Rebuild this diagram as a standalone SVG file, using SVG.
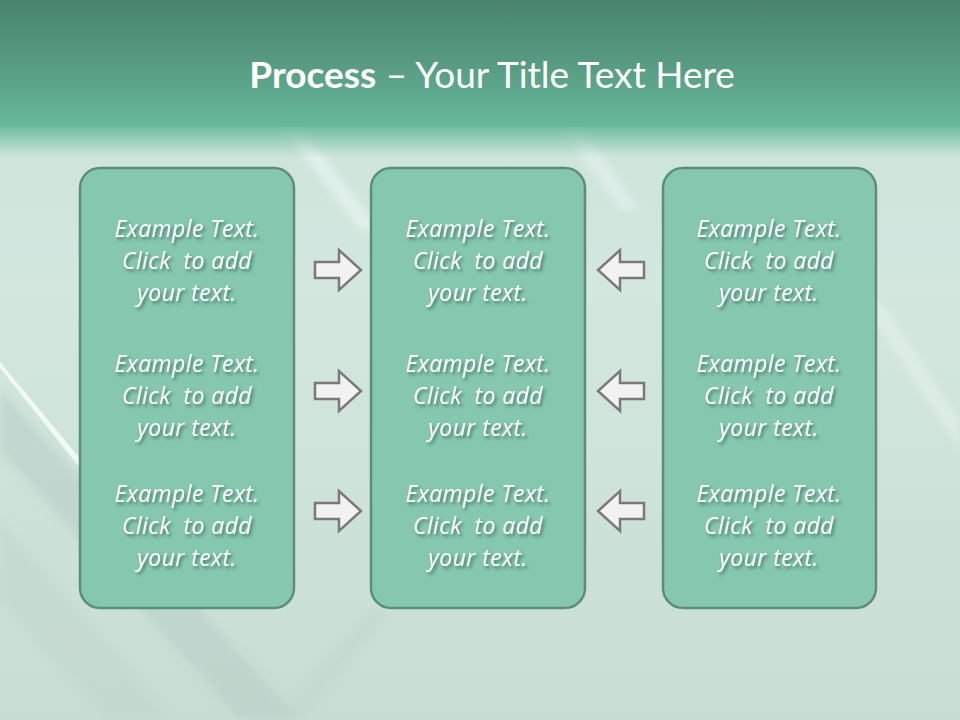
<svg xmlns="http://www.w3.org/2000/svg" width="960" height="720" viewBox="0 0 960 720">
<defs>
<linearGradient id="top" x1="0" y1="0" x2="0" y2="1">
<stop offset="0" stop-color="#4a846e"/>
<stop offset="0.5" stop-color="#579b81"/>
<stop offset="1" stop-color="#68b99c"/>
</linearGradient>
<linearGradient id="bg" x1="0" y1="0" x2="0" y2="1">
<stop offset="0" stop-color="#a9d3c3"/>
<stop offset="0.05" stop-color="#c9e3d9"/>
<stop offset="0.4" stop-color="#d3e7df"/>
<stop offset="1" stop-color="#c8ddd4"/>
</linearGradient>
<linearGradient id="fade" x1="0" y1="0" x2="0" y2="1">
<stop offset="0" stop-color="#68b99c" stop-opacity="0.9"/>
<stop offset="1" stop-color="#68b99c" stop-opacity="0"/>
</linearGradient>
<filter id="ts" x="-10%" y="-30%" width="130%" height="170%">
<feDropShadow dx="2" dy="2.5" stdDeviation="1.5" flood-color="#2f5e4d" flood-opacity="0.7"/>
</filter>
<filter id="blur" x="-20%" y="-20%" width="140%" height="140%">
<feGaussianBlur stdDeviation="4"/>
</filter>
</defs>
<style>
.box{fill:#86c7b0;stroke:#5e8d7b;stroke-width:2.5}
.arr{fill:#f2f2f2;stroke:#7a7a7a;stroke-width:2.5;stroke-linejoin:miter}
.t{font-family:"Open Sans","Liberation Sans",sans-serif;font-style:italic;font-size:23px;letter-spacing:0.4px;fill:#ffffff;text-anchor:middle;filter:url(#ts);white-space:pre}
.title{font-family:Lato,"Liberation Sans",sans-serif;font-size:37px;fill:#ffffff;text-anchor:middle}
</style>

<g id="background">
<rect x="0" y="0" width="960" height="720" fill="url(#bg)"/>
<g filter="url(#blur)">
<polygon points="0,390 0,450 240,720 300,720" fill="#b9cfc6" opacity="0.6"/>
<polygon points="0,520 0,600 110,720 170,720" fill="#c0d4cc" opacity="0.5"/>
<polygon points="280,125 300,125 380,230 360,230" fill="#eef7f3" opacity="0.6"/>
<polygon points="560,125 580,125 640,210 620,210" fill="#eef7f3" opacity="0.5"/>
<polygon points="860,300 880,300 960,420 960,450" fill="#e6f2ed" opacity="0.6"/>
<polygon points="370,610 390,610 300,720 280,720" fill="#bdd2c9" opacity="0.4"/>
</g>
<polygon points="0,362 0,368 80,468 83,462" fill="#f4fbf8" opacity="0.9"/>
<rect x="0" y="0" width="960" height="127" fill="url(#top)"/>
<rect x="0" y="127" width="960" height="30" fill="url(#fade)"/>
</g>

<g id="title">
<text class="title" x="492" y="88"><tspan font-weight="bold">Process</tspan> – Your Title Text Here</text>
</g>

<g id="box-left">
<rect class="box" x="80" y="168" width="214" height="440" rx="20"/>
<text class="t"><tspan x="187" y="237">Example Text.</tspan><tspan x="187" y="269">Click  to add</tspan><tspan x="187" y="301">your text.</tspan></text>
<text class="t"><tspan x="187" y="372">Example Text.</tspan><tspan x="187" y="404">Click  to add</tspan><tspan x="187" y="436">your text.</tspan></text>
<text class="t"><tspan x="187" y="502">Example Text.</tspan><tspan x="187" y="534">Click  to add</tspan><tspan x="187" y="566">your text.</tspan></text>
</g>

<g id="box-middle">
<rect class="box" x="371" y="168" width="214" height="440" rx="20"/>
<text class="t"><tspan x="478" y="237">Example Text.</tspan><tspan x="478" y="269">Click  to add</tspan><tspan x="478" y="301">your text.</tspan></text>
<text class="t"><tspan x="478" y="372">Example Text.</tspan><tspan x="478" y="404">Click  to add</tspan><tspan x="478" y="436">your text.</tspan></text>
<text class="t"><tspan x="478" y="502">Example Text.</tspan><tspan x="478" y="534">Click  to add</tspan><tspan x="478" y="566">your text.</tspan></text>
</g>

<g id="box-right">
<rect class="box" x="663" y="168" width="213" height="440" rx="20"/>
<text class="t"><tspan x="769" y="237">Example Text.</tspan><tspan x="769" y="269">Click  to add</tspan><tspan x="769" y="301">your text.</tspan></text>
<text class="t"><tspan x="769" y="372">Example Text.</tspan><tspan x="769" y="404">Click  to add</tspan><tspan x="769" y="436">your text.</tspan></text>
<text class="t"><tspan x="769" y="502">Example Text.</tspan><tspan x="769" y="534">Click  to add</tspan><tspan x="769" y="566">your text.</tspan></text>
</g>

<g id="connectors">
<path class="arr" d="M315,262 H339 V250 L361,270 L339,290 V278 H315 Z"/>
<path class="arr" d="M315,383 H339 V371 L361,391 L339,411 V399 H315 Z"/>
<path class="arr" d="M315,503 H339 V491 L361,511 L339,531 V519 H315 Z"/>
<path class="arr" d="M644,262 H620 V250 L598,270 L620,290 V278 H644 Z"/>
<path class="arr" d="M644,383 H620 V371 L598,391 L620,411 V399 H644 Z"/>
<path class="arr" d="M644,503 H620 V491 L598,511 L620,531 V519 H644 Z"/>
</g>
</svg>
